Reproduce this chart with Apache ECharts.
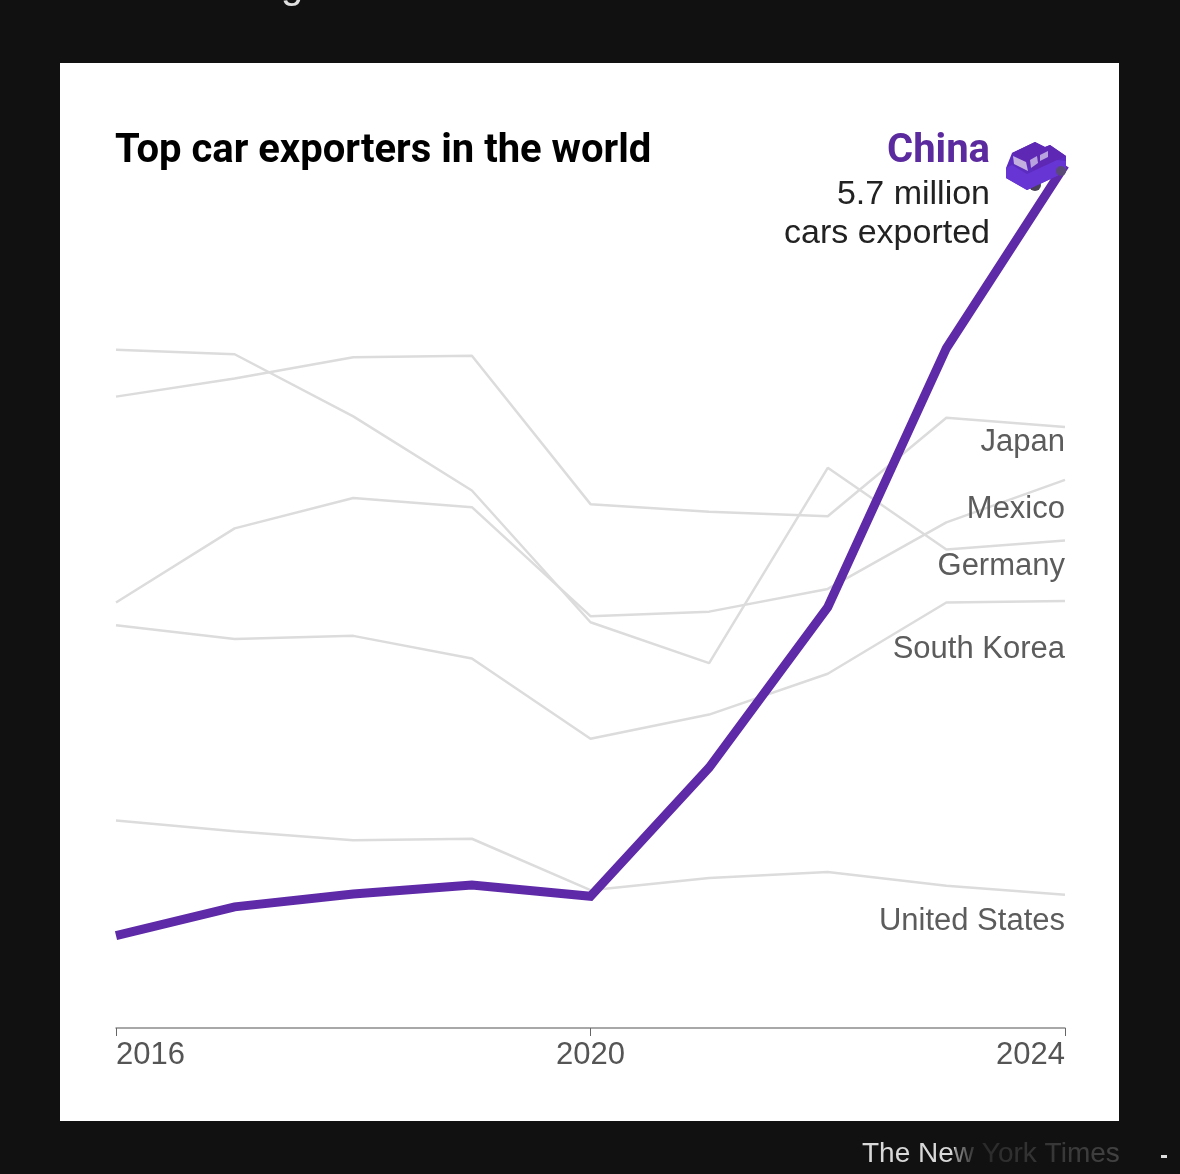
<!DOCTYPE html>
<html><head><meta charset="utf-8">
<style>html,body{margin:0;padding:0;background:#111}#c{width:1180px;height:1174px}</style>
<script src="https://cdn.jsdelivr.net/npm/echarts@6/dist/echarts.min.js"></script>
</head><body><div id="c"></div>
<script>
const years = ['2016','2017','2018','2019','2020','2021','2022','2023','2024'];
const china = [0.61,0.80,0.885,0.945,0.87,1.72,2.78,4.49,5.70];
const japan = [4.17,4.29,4.43,4.44,3.46,3.41,3.38,4.03,3.97];
const mexico = [2.81,3.30,3.50,3.44,2.72,2.75,2.90,3.34,3.62];
const germany = [4.48,4.45,4.04,3.55,2.68,2.41,3.70,3.16,3.22];
const southKorea = [2.66,2.57,2.59,2.44,1.91,2.07,2.34,2.81,2.82];
const unitedStates = [1.37,1.30,1.24,1.25,0.91,0.99,1.03,0.94,0.88];

const grayColor = '#dcdcdc', purple = '#5f2aa8';
const labelFont = '"Liberation Sans"', headFont = 'Roboto';
function grayLine(name, data, dy){
  return {type:'line',name,data,symbol:'none',silent:true,
    lineStyle:{color:grayColor,width:2.5},
    endLabel:{show:true,formatter:name,align:'right',verticalAlign:'middle',
      offset:[-8,dy],color:'#5c5c5c',fontSize:31,fontFamily:labelFont}};
}
const truck = {
  type:'custom',data:[[8,china[8]]],silent:true,z:5,
  encode:{x:0,y:1},
  renderItem(params,api){
    const p = api.coord([api.value(0),api.value(1)]);
    const poly = (pts,fill)=>({type:'polygon',shape:{points:pts.map(q=>[p[0]+q[0],p[1]+q[1]])},style:{fill}});
    return {type:'group',children:[
      {type:'circle',shape:{cx:p[0]-30,cy:p[1]+20,r:6},style:{fill:'#4a4058'}},
      poly([[-59,3],[-53,-12],[-30,-23],[-20,-18],[-15,-20],[1,-9],[1,6],[-8,11],[-38,25],[-59,13]],'#5c2cc0'),
      poly([[-53,-12],[-30,-23],[-20,-18],[-15,-20],[1,-9],[-30,6],[-38,0]],'#5e28b4'),
      poly([[-59,3],[-53,0],[-38,9],[-8,-5],[1,-4],[1,6],[-8,11],[-38,25],[-59,13]],'#6735d4'),
      poly([[-52,-9],[-39,-3],[-37,6],[-51,-1]],'#c3aee0'),
      poly([[-35,-5],[-28,-9],[-27,-2],[-34,3]],'#b9a3df'),
      poly([[-25,-10],[-17,-14],[-17,-8],[-25,-4]],'#b9a3df'),
      {type:'circle',shape:{cx:p[0]-4,cy:p[1]+6,r:5},style:{fill:'#5a4a78'}}
    ]};
  }
};
const chart = echarts.init(document.getElementById('c'),null,{renderer:'canvas'});
chart.setOption({
  animation:false,
  backgroundColor:'#111111',
  grid:{left:116,right:115,top:59,bottom:146,containLabel:false},
  xAxis:{type:'category',data:years,boundaryGap:false,
    axisLine:{lineStyle:{color:'#8c8c8c',width:1.5}},
    axisTick:{interval:3,length:8,lineStyle:{color:'#666',width:1},inside:false},
    axisLabel:{interval:3,color:'#555',fontSize:31,fontFamily:labelFont,margin:12,alignMinLabel:'left',alignMaxLabel:'right'}},
  yAxis:{type:'value',min:0,max:6.4,show:false,splitLine:{show:false}},
  title:[
    {text:'Top car exporters in the world',left:115,top:132,textStyle:{color:'#000',fontSize:40,fontWeight:'bold',fontFamily:headFont},padding:0},
    {text:'China',right:190,top:132,textStyle:{color:'#5b2a9e',fontSize:40,fontWeight:'bold',fontFamily:headFont},padding:0},
    {text:'5.7 million',right:190,top:178,textStyle:{color:'#222',fontSize:34,fontWeight:'normal',fontFamily:labelFont},padding:0},
    {text:'cars exported',right:190,top:217,textStyle:{color:'#222',fontSize:34,fontWeight:'normal',fontFamily:labelFont},padding:0},
    {text:'The New York Times',left:862,top:1140,textStyle:{color:'#d8d8d8',fontSize:28,fontWeight:'normal',fontFamily:labelFont},padding:0}
  ],
  graphic:[
    {type:'rect',z:-10,silent:true,shape:{x:60,y:63,width:1059,height:1058},style:{fill:'#ffffff'}},
    {type:'rect',z:100,silent:true,shape:{x:955,y:1128,width:170,height:40},
      style:{fill:{type:'linear',x:0,y:0,x2:1,y2:0,colorStops:[{offset:0,color:'rgba(17,17,17,0.3)'},{offset:0.12,color:'rgba(17,17,17,0.88)'},{offset:1,color:'rgba(17,17,17,0.75)'}]}}},
    {type:'rect',z:100,silent:true,shape:{x:1161,y:1155,width:6,height:3},style:{fill:'#dddddd'}},
    {type:'text',z:100,silent:true,x:281,y:-33,style:{text:'g',fill:'#e0e0e0',fontSize:40,fontFamily:labelFont}}
  ],
  series:[
    grayLine('Japan',japan,16),
    grayLine('Mexico',mexico,30),
    grayLine('Germany',germany,26),
    grayLine('South Korea',southKorea,48),
    grayLine('United States',unitedStates,27),
    {type:'line',name:'China',data:china,symbol:'none',silent:true,z:4,lineStyle:{color:purple,width:9,join:'miter'}},
    truck
  ]
});
</script></body></html>
